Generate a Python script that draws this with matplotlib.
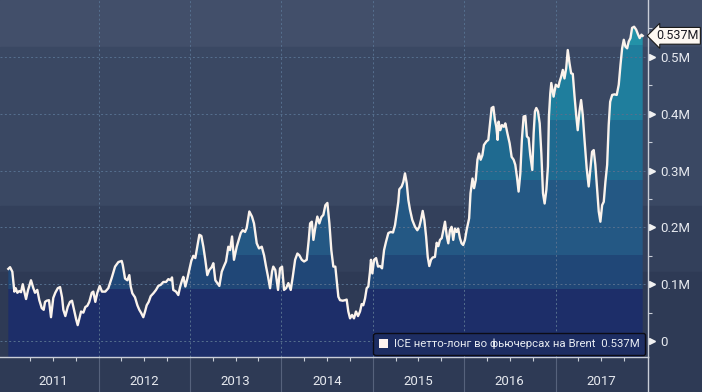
import numpy as np
import matplotlib.pyplot as plt
from matplotlib.patches import Rectangle, Polygon

plt.rcParams['font.family'] = ['Liberation Sans Narrow', 'Roboto', 'DejaVu Sans']

# weekly ICE Brent net long (years since Jan 2011, million contracts)
t_offset = [
    0.013, 0.032, 0.057, 0.079, 0.094, 0.112, 0.133, 0.152, 0.171, 0.188,
    0.207, 0.229, 0.261, 0.287, 0.305, 0.330, 0.352, 0.379, 0.400, 0.415,
    0.433, 0.458, 0.480, 0.505, 0.527, 0.554, 0.579, 0.601, 0.615, 0.637,
    0.663, 0.688, 0.710, 0.732, 0.754, 0.772, 0.790, 0.809, 0.834, 0.856,
    0.877, 0.899, 0.926, 0.943, 0.965, 0.987, 1.013, 1.038, 1.074, 1.107,
    1.144, 1.181, 1.217, 1.254, 1.265, 1.290, 1.315, 1.337, 1.352, 1.370,
    1.399, 1.425, 1.446, 1.468, 1.490, 1.509, 1.527, 1.549, 1.571, 1.600,
    1.629, 1.654, 1.681, 1.709, 1.739, 1.764, 1.790, 1.804, 1.818, 1.848,
    1.873, 1.892, 1.914, 1.928, 1.950, 1.972, 1.993, 2.015, 2.037, 2.059,
    2.081, 2.103, 2.125, 2.147, 2.168, 2.190, 2.212, 2.238, 2.256, 2.278,
    2.300, 2.322, 2.348, 2.373, 2.395, 2.420, 2.439, 2.461, 2.482, 2.512,
    2.534, 2.556, 2.578, 2.603, 2.621, 2.650, 2.679, 2.701, 2.731, 2.756,
    2.786, 2.811, 2.833, 2.855, 2.877, 2.898, 2.912, 2.934, 2.950, 2.964,
    2.986, 3.008, 3.030, 3.052, 3.077, 3.103, 3.125, 3.151, 3.176, 3.197,
    3.224, 3.249, 3.278, 3.300, 3.315, 3.334, 3.351, 3.373, 3.394, 3.416,
    3.438, 3.460, 3.482, 3.504, 3.526, 3.547, 3.569, 3.591, 3.606, 3.624,
    3.642, 3.672, 3.697, 3.715, 3.733, 3.752, 3.774, 3.795, 3.817, 3.839,
    3.861, 3.879, 3.897, 3.916, 3.934, 3.952, 3.970, 3.981, 3.996, 4.015,
    4.037, 4.058, 4.080, 4.102, 4.124, 4.146, 4.171, 4.197, 4.222, 4.244,
    4.263, 4.280, 4.291, 4.317, 4.335, 4.353, 4.372, 4.390, 4.408, 4.433,
    4.463, 4.488, 4.510, 4.528, 4.547, 4.565, 4.584, 4.602, 4.619, 4.638,
    4.656, 4.681, 4.700, 4.718, 4.736, 4.755, 4.773, 4.791, 4.810, 4.827,
    4.845, 4.863, 4.881, 4.899, 4.918, 4.935, 4.954, 4.972, 4.990, 5.009,
    5.027, 5.055, 5.070, 5.092, 5.109, 5.127, 5.146, 5.163, 5.181, 5.200,
    5.217, 5.243, 5.265, 5.287, 5.301, 5.320, 5.337, 5.352, 5.367, 5.377,
    5.396, 5.414, 5.435, 5.451, 5.473, 5.498, 5.520, 5.542, 5.560, 5.578,
    5.596, 5.615, 5.632, 5.651, 5.670, 5.687, 5.706, 5.724, 5.746, 5.761,
    5.775, 5.790, 5.808, 5.827, 5.845, 5.863, 5.881, 5.900, 5.917, 5.928,
    5.943, 5.954, 5.979, 6.003, 6.032, 6.044, 6.062, 6.080, 6.098, 6.117,
    6.134, 6.153, 6.171, 6.189, 6.207, 6.226, 6.243, 6.262, 6.280, 6.298,
    6.316, 6.341, 6.363, 6.382, 6.400, 6.418, 6.436, 6.455, 6.473, 6.491,
    6.510, 6.528, 6.546, 6.565, 6.582, 6.598, 6.620, 6.645, 6.670, 6.692,
    6.711, 6.729, 6.747, 6.765, 6.784, 6.801, 6.820, 6.838, 6.860, 6.882,
    6.904, 6.921, 6.940, 6.954,
]
net_long = [
    0.127, 0.130, 0.122, 0.087, 0.093, 0.085, 0.088, 0.086, 0.100, 0.087,
    0.074, 0.090, 0.107, 0.093, 0.085, 0.090, 0.072, 0.058, 0.055, 0.069,
    0.071, 0.072, 0.042, 0.076, 0.085, 0.093, 0.095, 0.077, 0.055, 0.044,
    0.060, 0.069, 0.071, 0.055, 0.039, 0.028, 0.040, 0.052, 0.050, 0.060,
    0.062, 0.069, 0.085, 0.087, 0.069, 0.085, 0.097, 0.087, 0.087, 0.093,
    0.111, 0.131, 0.139, 0.141, 0.134, 0.110, 0.107, 0.116, 0.096, 0.084,
    0.077, 0.063, 0.055, 0.049, 0.042, 0.052, 0.063, 0.069, 0.079, 0.084,
    0.090, 0.097, 0.099, 0.104, 0.104, 0.109, 0.107, 0.112, 0.090, 0.087,
    0.081, 0.095, 0.107, 0.113, 0.096, 0.110, 0.125, 0.141, 0.150, 0.146,
    0.166, 0.187, 0.185, 0.166, 0.143, 0.116, 0.125, 0.130, 0.137, 0.107,
    0.102, 0.097, 0.122, 0.132, 0.140, 0.166, 0.160, 0.184, 0.143, 0.166,
    0.178, 0.190, 0.195, 0.192, 0.199, 0.228, 0.219, 0.207, 0.172, 0.163,
    0.166, 0.151, 0.131, 0.113, 0.093, 0.122, 0.131, 0.125, 0.107, 0.090,
    0.128, 0.131, 0.090, 0.093, 0.102, 0.090, 0.113, 0.143, 0.154, 0.151,
    0.143, 0.140, 0.143, 0.178, 0.207, 0.210, 0.178, 0.201, 0.219, 0.207,
    0.218, 0.222, 0.239, 0.243, 0.207, 0.160, 0.131, 0.131, 0.107, 0.078,
    0.072, 0.071, 0.072, 0.073, 0.052, 0.040, 0.046, 0.040, 0.052, 0.044,
    0.052, 0.065, 0.063, 0.075, 0.093, 0.096, 0.122, 0.143, 0.119, 0.143,
    0.146, 0.131, 0.132, 0.128, 0.160, 0.175, 0.190, 0.192, 0.191, 0.204,
    0.225, 0.245, 0.267, 0.272, 0.280, 0.295, 0.278, 0.248, 0.231, 0.213,
    0.201, 0.195, 0.201, 0.213, 0.229, 0.213, 0.184, 0.148, 0.132, 0.143,
    0.147, 0.148, 0.173, 0.167, 0.178, 0.181, 0.195, 0.210, 0.185, 0.172,
    0.195, 0.201, 0.178, 0.198, 0.192, 0.198, 0.181, 0.172, 0.169, 0.178,
    0.195, 0.216, 0.260, 0.286, 0.269, 0.283, 0.319, 0.330, 0.319, 0.327,
    0.345, 0.351, 0.354, 0.389, 0.410, 0.412, 0.389, 0.377, 0.354, 0.386,
    0.371, 0.380, 0.377, 0.383, 0.366, 0.348, 0.324, 0.319, 0.310, 0.289,
    0.263, 0.295, 0.354, 0.395, 0.396, 0.360, 0.357, 0.327, 0.301, 0.366,
    0.404, 0.410, 0.404, 0.383, 0.330, 0.260, 0.242, 0.266, 0.307, 0.395,
    0.436, 0.454, 0.430, 0.451, 0.447, 0.456, 0.465, 0.477, 0.462, 0.480,
    0.512, 0.489, 0.471, 0.470, 0.433, 0.398, 0.371, 0.404, 0.424, 0.398,
    0.357, 0.304, 0.272, 0.304, 0.333, 0.336, 0.310, 0.269, 0.228, 0.210,
    0.239, 0.245, 0.280, 0.310, 0.380, 0.421, 0.433, 0.434, 0.433, 0.451,
    0.486, 0.515, 0.530, 0.518, 0.515, 0.527, 0.533, 0.551, 0.553, 0.548,
    0.539, 0.533, 0.539, 0.537,
]

year_labels = ['2011', '2012', '2013', '2014', '2015', '2016', '2017']
y_ticks = [0, 0.1, 0.2, 0.3, 0.4, 0.5]
y_labels = ['0', '0.1M', '0.2M', '0.3M', '0.4M', '0.5M']
band_edges = [0.0915, 0.151, 0.283, 0.389, 0.521]
band_colors = ['#1d2e69', '#204777', '#245884', '#1f6a90', '#1f7e9d', '#2392a8']
series_name = 'ICE нетто-лонг во фьючерсах на Brent'
last_label = '0.537M'

x = 2011 + np.array(t_offset)
v = np.array(net_long)
ymin, ymax = -0.028, 0.6

fig = plt.figure(figsize=(7.02, 3.92), dpi=100, facecolor='#2e3a55')
# background bands behind the plot (lighter towards the top)
for y0, y1, c in [(0.880, 1.0, '#424f6a'), (0.4745, 0.880, '#3a4863'),
                  (0.306, 0.4745, '#33405b'), (0.0, 0.306, '#2e3a55')]:
    fig.add_artist(Rectangle((0, y0), 1, y1 - y0, transform=fig.transFigure,
                             color=c, zorder=-10))

ax = fig.add_axes([0, 35 / 392, 648 / 702, 357 / 392])
ax.patch.set_visible(False)
ax.set_xlim(2011 - 0.078, 2018.012)
ax.set_ylim(ymin, ymax)

# area under the line, coloured in horizontal bands
verts = [(x[0], ymin)] + list(zip(x, v)) + [(x[-1], ymin)]
area = Polygon(verts, closed=True, facecolor='none', edgecolor='none')
ax.add_patch(area)
bounds = [ymin] + band_edges + [ymax]
for lo, hi, c in zip(bounds[:-1], bounds[1:], band_colors):
    span = ax.axhspan(lo, hi, color=c, lw=0, zorder=1)
    span.set_clip_path(area)

ax.plot(x, v, color='#fbf3ec', lw=1.7, zorder=3)

# grid
ax.set_yticks(y_ticks)
ax.set_yticklabels(y_labels)
ax.set_yticks(np.arange(0.05, 0.6, 0.1), minor=True)
ax.set_xticks(range(2012, 2018))
ax.set_xticks([yr + q for yr in range(2011, 2018) for q in (0.25, 0.5, 0.75)], minor=True)
ax.set_xticklabels([])
ax.grid(True, which='major', color='#56708f', lw=0.7, ls=(0, (2, 2.5)), zorder=2)

for s in ['top', 'left']:
    ax.spines[s].set_visible(False)
for s in ['right', 'bottom']:
    ax.spines[s].set_color('#c9ced8')
    ax.spines[s].set_linewidth(1.0)
fig.add_artist(plt.Line2D([648 / 702] * 2, [0, 35 / 392], transform=fig.transFigure,
                          color='#c9ced8', lw=1.0))

ax.yaxis.tick_right()
ax.tick_params(axis='y', which='major', length=0, pad=9, labelsize=9.5,
               labelcolor='#e6e9ef')
ax.tick_params(axis='y', which='minor', length=3, width=0.8, color='#c9ced8')
ax.plot([1.006] * len(y_ticks), y_ticks, marker='>', ms=4, ls='none',
        color='#f2f2f2', transform=ax.get_yaxis_transform(), clip_on=False)
ax.tick_params(axis='x', which='major', length=25, width=0.8, color='#56627c')
ax.tick_params(axis='x', which='minor', length=3, width=0.8, color='#c9ced8')

for i, lab in enumerate(year_labels):
    ax.text(2011.5 + i, -0.068, lab, transform=ax.get_xaxis_transform(),
            ha='center', va='center', color='#e6e9ef', fontsize=9.5)

ax.text(1.0125, 0.537, last_label, transform=ax.get_yaxis_transform(),
        ha='left', va='center', color='#1a1a22', fontsize=9, clip_on=False,
        bbox=dict(boxstyle='larrow,pad=0.15', fc='#fdf8f2', ec='#1a1a1a', lw=0.8))

handle = Rectangle((0, 0), 1, 1, fc='#fff4ef', ec='none')
leg = ax.legend([handle], [series_name + '  ' + last_label], loc='lower right',
                bbox_to_anchor=(0.996, 0.006), borderaxespad=0, fontsize=8.2,
                labelcolor='#e8ecf2', facecolor='#1d2d62', edgecolor='#0c0c16',
                framealpha=1, fancybox=True, handlelength=0.8, handleheight=0.8,
                handletextpad=0.5, borderpad=0.5)
leg.get_frame().set_linewidth(1.0)
leg.set_zorder(5)

fig.savefig('out.png', dpi=100, facecolor=fig.get_facecolor())
